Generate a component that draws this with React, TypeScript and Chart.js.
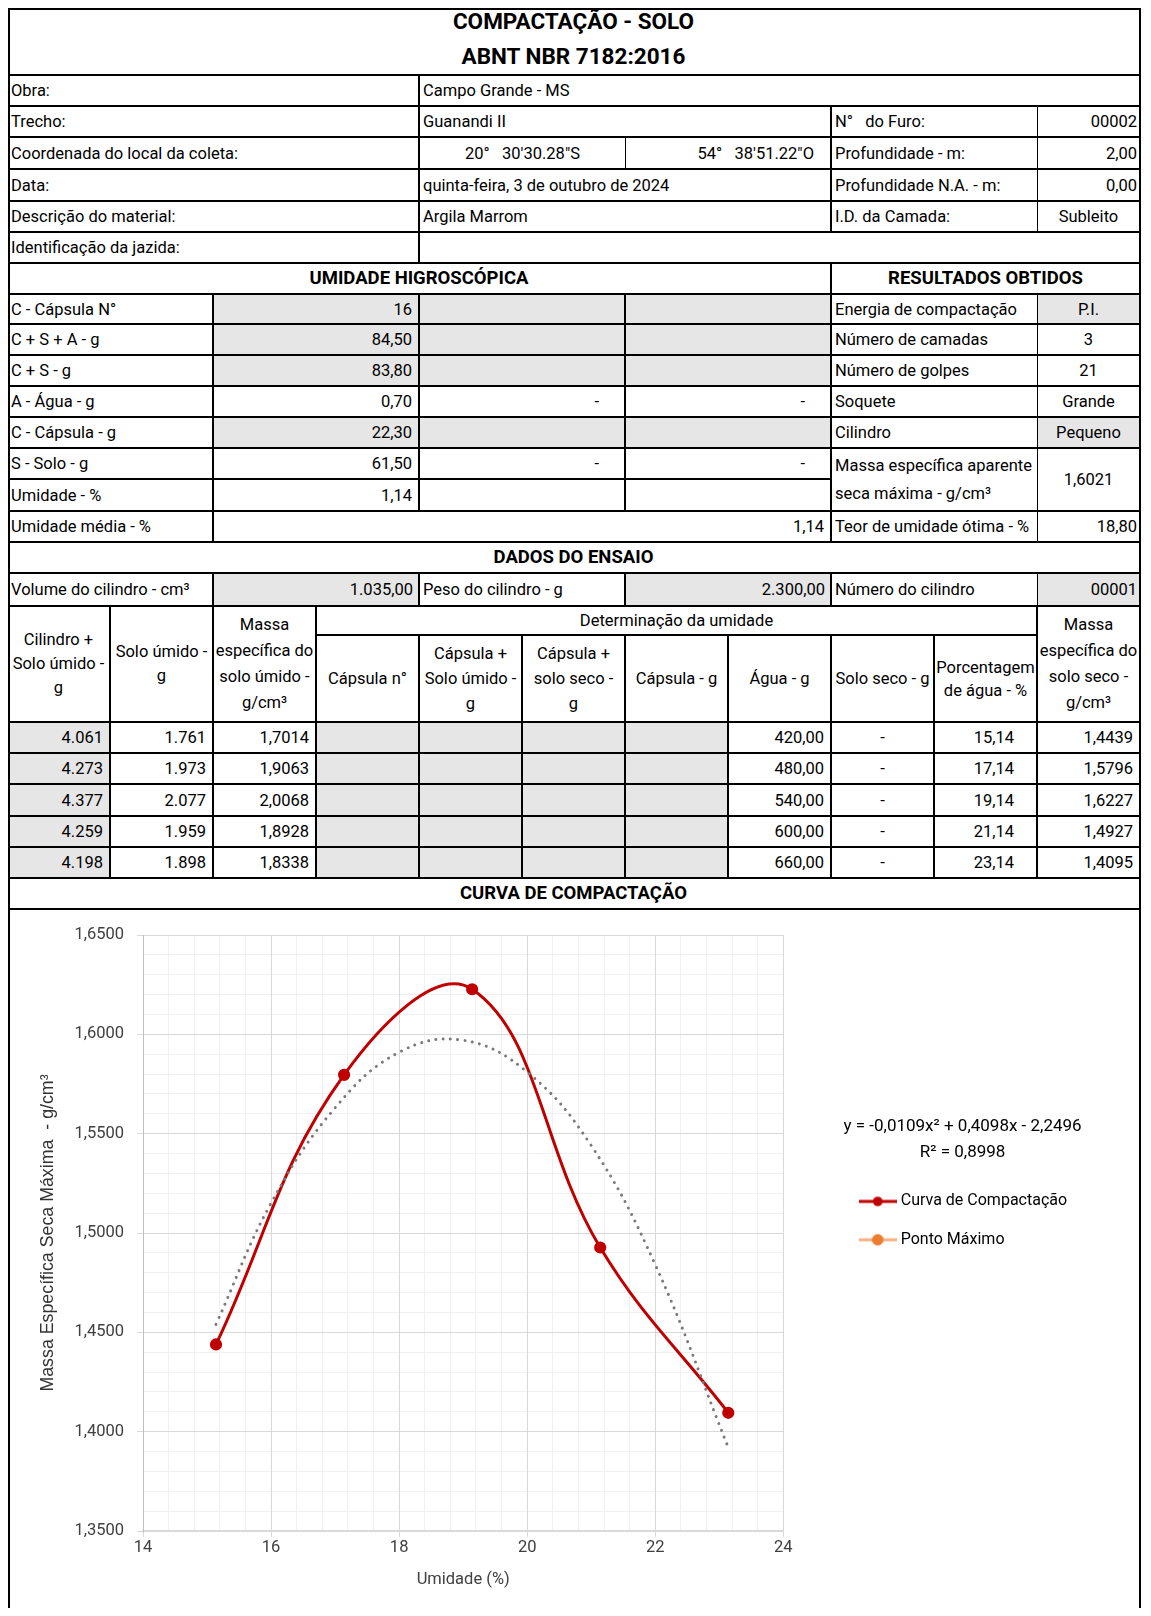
import React, { useEffect, useRef } from 'react';
import { Chart, registerables } from 'chart.js';

Chart.register(...registerables);

// ---------------- data ----------------
const titleLines = ['COMPACTAÇÃO - SOLO', 'ABNT NBR 7182:2016'];
const obra = 'Campo Grande - MS';
const trecho = 'Guanandi II';
const furo = '00002';
const latitude = "20°   30'30.28\"S";
const longitude = "54°   38'51.22\"O";
const profundidade = '2,00';
const dataEnsaio = 'quinta-feira, 3 de outubro de 2024';
const profNA = '0,00';
const material = 'Argila Marrom';
const camada = 'Subleito';

const hygroLabels = ['C - Cápsula N°', 'C + S + A - g', 'C + S - g', 'A - Água - g', 'C - Cápsula - g', 'S - Solo - g', 'Umidade - %'];
const hygroV1 = ['16', '84,50', '83,80', '0,70', '22,30', '61,50', '1,14'];
const hygroV2 = ['', '', '', '-', '', '-', ''];
const hygroV3 = ['', '', '', '-', '', '-', ''];
const hygroGray = [true, true, true, false, true, false, false];
const umidadeMedia = '1,14';

const resultLabels = ['Energia de compactação', 'Número de camadas', 'Número de golpes', 'Soquete', 'Cilindro'];
const resultValues = ['P.I.', '3', '21', 'Grande', 'Pequeno'];
const resultGray = [true, false, false, false, true];
const massaMaxLabel = 'Massa específica aparente\nseca máxima - g/cm³';
const massaMax = '1,6021';
const umidadeOtima = '18,80';

const volumeCilindro = '1.035,00';
const pesoCilindro = '2.300,00';
const numeroCilindro = '00001';

const cilindroSoloUmido = ['4.061', '4.273', '4.377', '4.259', '4.198'];
const soloUmido = ['1.761', '1.973', '2.077', '1.959', '1.898'];
const massaUmida = ['1,7014', '1,9063', '2,0068', '1,8928', '1,8338'];
const agua = ['420,00', '480,00', '540,00', '600,00', '660,00'];
const soloSeco = ['-', '-', '-', '-', '-'];
const umidade = [15.14, 17.14, 19.14, 21.14, 23.14];
const massaSeca = [1.4439, 1.5796, 1.6227, 1.4927, 1.4095];

// polynomial trendline, values
const trendX = [15.14, 16, 17, 18, 19, 20, 21, 22, 23.14];
const trendY = [1.454, 1.515, 1.563, 1.591, 1.597, 1.581, 1.544, 1.484, 1.392];

const xTickLabels = ['14', '16', '18', '20', '22', '24'];
const yTickLabels = ['1,3500', '1,4000', '1,4500', '1,5000', '1,5500', '1,6000', '1,6500'];
const equationLines = ['y = -0,0109x² + 0,4098x - 2,2496', 'R² = 0,8998'];
const seriesNames = ['Curva de Compactação', 'Ponto Máximo'];
const xTitle = 'Umidade (%)';
const yTitle = 'Massa Específica Seca Máxima  - g/cm³';

// ---------------- layout ----------------
const ORIGIN = 8;
const X = [8, 111, 214, 317, 420, 523, 626, 729, 832, 935, 1038, 1141].map((v) => v - ORIGIN);
const Y = [8, 76, 107, 138, 170, 202, 233, 264, 295, 325, 356, 387, 418, 449, 480, 512, 543, 574, 607, 636, 723, 754, 785, 817, 848, 879, 910, 1608].map((v) => v - ORIGIN);
const GRAY = '#E7E6E6';
const RED = '#C00000';
const ORANGE = '#ED7D31';
const FS = 16.5;
const HFS = 18.5;

type Cell = {
  c0: number; c1: number; r0: number; r1: number; t: string;
  a?: 'l' | 'c' | 'r'; g?: boolean; b?: boolean; br?: number; bb?: number; pr?: number; pl?: number; pb?: number; fs?: number; lh?: number;
};

const fmt = (v: number, d: number) => v.toFixed(d).replace('.', ',');

function buildCells(): Cell[] {
  const cells: Cell[] = [];
  const add = (c0: number, c1: number, r0: number, r1: number, t = '', o: Partial<Cell> = {}) =>
    cells.push({ c0, c1, r0, r1, t, ...o });

  add(0, 11, 0, 1, titleLines.join('\n'), { a: 'c', b: true, fs: 22.5, lh: 35, pb: 4 });
  add(0, 4, 1, 2, 'Obra:'); add(4, 11, 1, 2, obra);
  add(0, 4, 2, 3, 'Trecho:'); add(4, 8, 2, 3, trecho); add(8, 10, 2, 3, 'N°   do Furo:', { br: 1 }); add(10, 11, 2, 3, furo, { a: 'r', pr: 2 });
  add(0, 4, 3, 4, 'Coordenada do local da coleta:'); add(4, 6, 3, 4, latitude, { a: 'c', br: 1 }); add(6, 8, 3, 4, longitude, { a: 'r', pr: 16 });
  add(8, 10, 3, 4, 'Profundidade - m:', { br: 1 }); add(10, 11, 3, 4, profundidade, { a: 'r', pr: 2 });
  add(0, 4, 4, 5, 'Data:'); add(4, 8, 4, 5, dataEnsaio); add(8, 10, 4, 5, 'Profundidade N.A. - m:', { br: 1 }); add(10, 11, 4, 5, profNA, { a: 'r', pr: 2 });
  add(0, 4, 5, 6, 'Descrição do material:'); add(4, 8, 5, 6, material); add(8, 10, 5, 6, 'I.D. da Camada:', { br: 1 }); add(10, 11, 5, 6, camada, { a: 'c' });
  add(0, 4, 6, 7, 'Identificação da jazida:'); add(4, 11, 6, 7, '');

  add(0, 8, 7, 8, 'UMIDADE HIGROSCÓPICA', { a: 'c', b: true, fs: HFS });
  add(8, 11, 7, 8, 'RESULTADOS OBTIDOS', { a: 'c', b: true, fs: HFS });
  hygroLabels.forEach((l, i) => {
    const r = 8 + i;
    add(0, 2, r, r + 1, l);
    add(2, 4, r, r + 1, hygroV1[i], { a: 'r', g: hygroGray[i], pr: 6 });
    add(4, 6, r, r + 1, hygroV2[i], { a: 'r', g: hygroGray[i], pr: 25 });
    add(6, 8, r, r + 1, hygroV3[i], { a: 'r', g: hygroGray[i], pr: 25 });
  });
  resultLabels.forEach((l, i) => {
    const r = 8 + i;
    add(8, 10, r, r + 1, l, { br: 1 });
    add(10, 11, r, r + 1, resultValues[i], { a: 'c', g: resultGray[i] });
  });
  add(8, 10, 13, 15, massaMaxLabel, { br: 1, lh: 28 });
  add(10, 11, 13, 15, massaMax, { a: 'c' });

  add(0, 2, 15, 16, 'Umidade média - %'); add(2, 8, 15, 16, umidadeMedia, { a: 'r', pr: 6 });
  add(8, 10, 15, 16, 'Teor de umidade ótima - %', { br: 1 }); add(10, 11, 15, 16, umidadeOtima, { a: 'r', pr: 2 });

  add(0, 11, 16, 17, 'DADOS DO ENSAIO', { a: 'c', b: true, fs: HFS });
  add(0, 2, 17, 18, 'Volume do cilindro - cm³'); add(2, 4, 17, 18, volumeCilindro, { a: 'r', g: true, pr: 5 });
  add(4, 6, 17, 18, 'Peso do cilindro - g'); add(6, 8, 17, 18, pesoCilindro, { a: 'r', g: true, pr: 5 });
  add(8, 10, 17, 18, 'Número do cilindro', { br: 1 }); add(10, 11, 17, 18, numeroCilindro, { a: 'r', g: true, pr: 2 });

  add(0, 1, 18, 20, 'Cilindro +\nSolo úmido -\ng', { a: 'c', lh: 24, pl: 0, pr: 0 });
  add(1, 2, 18, 20, 'Solo úmido -\ng', { a: 'c', lh: 24, pl: 0, pr: 0 });
  add(2, 3, 18, 20, 'Massa\nespecífica do\nsolo úmido -\ng/cm³', { a: 'c', lh: 26, pl: 0, pr: 0 });
  add(3, 10, 18, 19, 'Determinação da umidade', { a: 'c' });
  add(3, 4, 19, 20, 'Cápsula n°', { a: 'c', pl: 0, pr: 0 });
  add(4, 5, 19, 20, 'Cápsula +\nSolo úmido -\ng', { a: 'c', lh: 25, pl: 0, pr: 0 });
  add(5, 6, 19, 20, 'Cápsula +\nsolo seco -\ng', { a: 'c', lh: 25, pl: 0, pr: 0 });
  add(6, 7, 19, 20, 'Cápsula - g', { a: 'c', pl: 0, pr: 0 });
  add(7, 8, 19, 20, 'Água - g', { a: 'c', pl: 0, pr: 0 });
  add(8, 9, 19, 20, 'Solo seco - g', { a: 'c', pl: 0, pr: 0 });
  add(9, 10, 19, 20, 'Porcentagem\nde água - %', { a: 'c', lh: 23, pl: 0, pr: 0 });
  add(10, 11, 18, 20, 'Massa\nespecífica do\nsolo seco -\ng/cm³', { a: 'c', lh: 26, pl: 0, pr: 0 });

  umidade.forEach((u, i) => {
    const r = 20 + i;
    add(0, 1, r, r + 1, cilindroSoloUmido[i], { a: 'r', g: true, pr: 6 });
    add(1, 2, r, r + 1, soloUmido[i], { a: 'r', pr: 6 });
    add(2, 3, r, r + 1, massaUmida[i], { a: 'r', pr: 6 });
    add(3, 4, r, r + 1, '', { g: true });
    add(4, 5, r, r + 1, '', { g: true });
    add(5, 6, r, r + 1, '', { g: true });
    add(6, 7, r, r + 1, '', { g: true });
    add(7, 8, r, r + 1, agua[i], { a: 'r', pr: 6 });
    add(8, 9, r, r + 1, soloSeco[i], { a: 'c' });
    add(9, 10, r, r + 1, fmt(u, 2), { a: 'r', pr: 22 });
    add(10, 11, r, r + 1, fmt(massaSeca[i], 4), { a: 'r', pr: 6 });
  });

  add(0, 11, 25, 26, 'CURVA DE COMPACTAÇÃO', { a: 'c', b: true, fs: HFS });
  add(0, 11, 26, 27, '', { bb: 0 });
  return cells;
}

function legendIcon(line: string, dot: string, r: number) {
  const cv = document.createElement('canvas');
  cv.width = 38;
  cv.height = 14;
  const ctx = cv.getContext('2d')!;
  ctx.strokeStyle = line;
  ctx.lineWidth = 3;
  ctx.beginPath();
  ctx.moveTo(0, 7);
  ctx.lineTo(38, 7);
  ctx.stroke();
  ctx.fillStyle = dot;
  ctx.beginPath();
  ctx.arc(19, 7, r, 0, Math.PI * 2);
  ctx.fill();
  return cv;
}

function CompactionChart() {
  const ref = useRef<HTMLCanvasElement | null>(null);
  useEffect(() => {
    if (!ref.current) return;
    Chart.defaults.font.family = 'Roboto';
    const icons: any[] = [legendIcon(RED, RED, 4.8), legendIcon('#F4B183', ORANGE, 5.8)];
    const chart = new Chart(ref.current, {
      type: 'scatter',
      data: {
        datasets: [
          {
            label: seriesNames[0],
            data: umidade.map((x, i) => ({ x, y: massaSeca[i] })),
            showLine: true,
            borderColor: RED,
            backgroundColor: RED,
            borderWidth: 3,
            pointRadius: 4.6,
            pointBackgroundColor: RED,
            pointBorderColor: RED,
            tension: 0.4,
            order: 1,
          } as any,
          {
            label: seriesNames[1],
            data: [],
            showLine: true,
            borderColor: ORANGE,
            backgroundColor: ORANGE,
            pointRadius: 5,
            order: 2,
          } as any,
          {
            label: 'Polinomial',
            data: trendX.map((x, i) => ({ x, y: trendY[i] })),
            showLine: true,
            borderColor: '#7A7A7A',
            borderWidth: 3,
            borderDash: [0.01, 7.3],
            borderCapStyle: 'round',
            pointRadius: 0,
            tension: 0.4,
            order: 0,
          } as any,
        ],
      },
      options: {
        responsive: false,
        animation: false,
        layout: { padding: { left: 21, top: 23, right: 50, bottom: 13 } },
        plugins: {
          tooltip: { enabled: false },
          legend: {
            position: 'right',
            align: 'start',
            maxWidth: 400,
            title: {
              display: true,
              text: equationLines.map((l) => l + ' '),
              color: '#000',
              position: 'center',
              font: { family: 'Roboto', size: 17, lineHeight: 1.53 },
              padding: { top: 183, bottom: 27 },
            },
            labels: {
              usePointStyle: true,
              pointStyleWidth: 30,
              padding: 22.4,
              color: '#000',
              font: { family: 'Roboto', size: 16 },
              generateLabels: (ch: any) => {
                const items = (Chart.defaults.plugins.legend.labels.generateLabels as any)(ch);
                return items
                  .filter((it: any) => it.datasetIndex !== 2)
                  .map((it: any) => ({ ...it, text: it.text + '   ', pointStyle: icons[it.datasetIndex], lineWidth: 0 }));
              },
            },
          } as any,
        },
        scales: {
          x: {
            type: 'linear',
            position: 'bottom',
            min: 14,
            max: 24,
            ticks: { stepSize: 2, padding: 1, color: '#404040', font: { size: FS }, callback: (_v: any, i: number) => xTickLabels[i] },
            grid: { color: '#D9D9D9', tickLength: 6 },
            border: { color: '#D9D9D9', width: 1.5 },
            title: { display: true, text: xTitle, color: '#404040', font: { size: FS }, padding: { top: 0, bottom: 3 } },
            afterFit: (s: any) => { s.height = 62; },
          },
          y: {
            type: 'linear',
            position: 'left',
            min: 1.35,
            max: 1.65,
            ticks: { stepSize: 0.05, padding: 13, color: '#404040', font: { size: FS }, callback: (_v: any, i: number) => yTickLabels[i] },
            grid: { color: '#D9D9D9', tickLength: 6 },
            border: { color: '#BFBFBF' },
            title: { display: true, text: yTitle, color: '#333333', font: { family: 'Liberation Sans', size: 17.8 }, padding: { top: 6.8, bottom: 0 } },
            afterFit: (s: any) => { s.width = 112; },
          },
          xMinor: {
            type: 'linear',
            position: 'top',
            min: 14,
            max: 24,
            ticks: { display: false, stepSize: 0.4 },
            grid: { color: '#F0F0F0', drawTicks: false, z: -2 },
            border: { display: false },
            afterFit: (s: any) => { s.height = 0; },
          },
          yMinor: {
            type: 'linear',
            position: 'right',
            min: 1.35,
            max: 1.65,
            ticks: { display: false, stepSize: 0.01 },
            grid: { color: '#F0F0F0', drawTicks: false, z: -2 },
            border: { display: false },
            afterFit: (s: any) => { s.width = 57; },
          },
        } as any,
      },
    });
    return () => chart.destroy();
  }, []);
  return <canvas ref={ref} width={1129} height={694} style={{ position: 'absolute', left: 2, top: 904 }} />;
}

export default function App() {
  const cells = buildCells();
  return (
    <div style={{ position: 'relative', width: X[11], height: 1600, fontFamily: 'Roboto, "Noto Sans", sans-serif', fontSize: FS, color: '#000' }}>
      {cells.map((c, i) => (
        <div
          key={i}
          style={{
            position: 'absolute',
            left: X[c.c0],
            top: Y[c.r0],
            width: X[c.c1] - X[c.c0],
            height: Y[c.r1] - Y[c.r0],
            boxSizing: 'border-box',
            borderRight: `${c.br ?? 2}px solid #000`,
            borderBottom: `${c.bb ?? 2}px solid #000`,
            background: c.g ? GRAY : '#fff',
            display: 'flex',
            alignItems: 'center',
            justifyContent: c.a === 'c' ? 'center' : c.a === 'r' ? 'flex-end' : 'flex-start',
            textAlign: c.a === 'c' ? 'center' : c.a === 'r' ? 'right' : 'left',
            paddingLeft: c.pl ?? 3,
            paddingRight: c.pr ?? 3,
            paddingBottom: c.pb ?? 0,
            whiteSpace: 'pre',
            fontWeight: c.b ? 700 : 400,
            fontSize: c.fs ?? FS,
            lineHeight: c.lh ? `${c.lh}px` : '21px',
            overflow: 'visible',
          }}
        >
          {c.t}
        </div>
      ))}
      <div
        style={{
          position: 'absolute',
          left: 0,
          top: 0,
          width: X[11],
          height: Y[27],
          boxSizing: 'border-box',
          borderLeft: '2px solid #000',
          borderTop: '2px solid #000',
          pointerEvents: 'none',
        }}
      />
      <CompactionChart />
    </div>
  );
}
